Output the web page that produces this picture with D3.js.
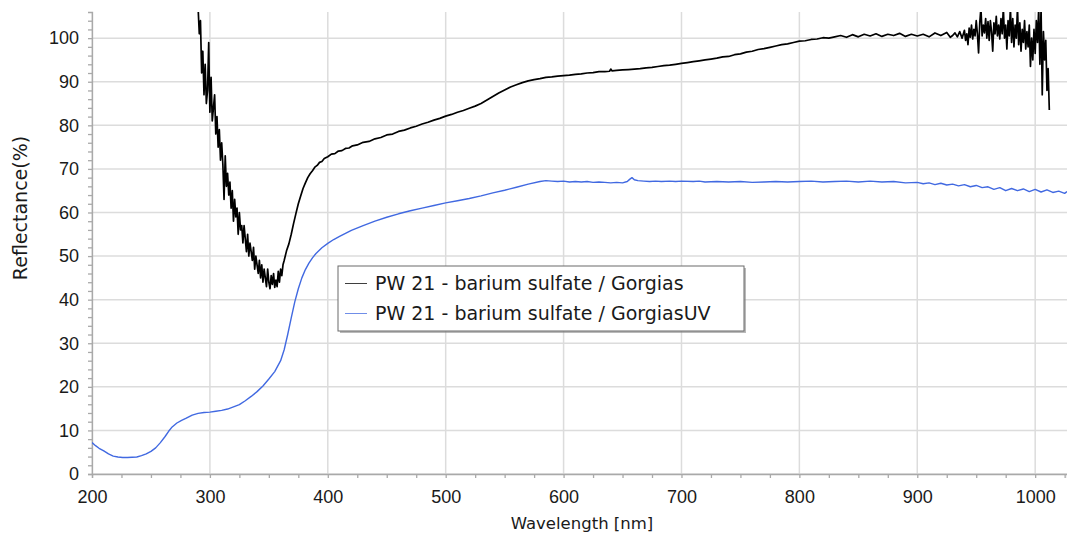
<!DOCTYPE html>
<html lang="en">
<head>
<meta charset="UTF-8">
<title>PW 21 - barium sulfate reflectance</title>
<script src="https://cdnjs.cloudflare.com/ajax/libs/d3/7.8.5/d3.min.js"></script>
<style>
  body { margin: 0; background: #fff; }
  svg { display: block; font-family: "DejaVu Sans", sans-serif; }
  .grid line { stroke: #dcdcdc; stroke-width: 1.5; }
  .axis path, .axis line { stroke: #a9a9a9; stroke-width: 1.3; }
  .axis text { fill: #1a1a1a; font-size: 18px; }
</style>
</head>
<body>
<svg id="chart"></svg>
<script>
// series labels
const seriesNames = ["PW 21 - barium sulfate / Gorgias", "PW 21 - barium sulfate / GorgiasUV"];
const seriesColors = ["#000000", "#4169e1"];

// tick labels
const xTicks = [200, 300, 400, 500, 600, 700, 800, 900, 1000];
const yTicks = [0, 10, 20, 30, 40, 50, 60, 70, 80, 90, 100];

// Gorgias (visible) – [wavelength nm, reflectance %]
const gorgias = [
  [290,107],[291,101],[292,104],[293,92],[294,97],[295,87],[296,94],[297,85],[298,88],[299,99],
  [299.5,90],[300,83],[301,91],[302,81],[303,84],[304,87],[305,78],[306,82],[307,75],[308,79],
  [309,72],[310,76],[311,71],[312,63],[313,73],[314,66],[315,69],[316,64],[317,67],[318,61],
  [319,65],[320,58],[321,63],[322,59],[323,61],[324,55],[325,60],[326,56],[327,57],[328,53],
  [329,57],[330,54],[331,51],[332,55],[333,50],[334,53],[335,51],[336,49],[337,52],[338,47],
  [339,50],[340,48],[341,46],[342,49],[343,45],[344,48],[345,44],[346,47],[347,45],[348,43],
  [349,47],[350,44],[351,42.5],[352,45.5],[353,43.5],[354,46],[355,42.8],[356,44.5],[357,43],
  [358,46.5],[359,44],[360,47],[361,45.5],[362,48],[363,49],[365,51.2],[367,52.8],[369,55],
  [371,57.5],[373,59.8],[375,62],[377,63.8],[379,65.5],[381,66.8],[383,68],[385,68.9],[387,69.6],
  [389,70.4],[391,70.8],[393,71.5],[395,71.7],[397,72.4],[400,72.8],[403,73.4],[406,73.5],
  [409,74.1],[412,74.2],[415,74.7],[418,74.8],[421,75.3],[425,75.5],[430,76.1],[435,76.3],
  [440,76.9],[445,77.2],[450,77.8],[455,78.0],[460,78.6],[465,78.9],[470,79.4],[475,79.8],
  [480,80.3],[485,80.7],[490,81.2],[495,81.6],[500,82.1],[505,82.5],[510,83.0],[515,83.4],
  [520,83.9],[525,84.4],[530,85.0],[535,85.8],[540,86.6],[545,87.4],[550,88.1],[555,88.8],
  [560,89.3],[565,89.8],[570,90.2],[575,90.5],[580,90.7],[585,91.0],[590,91.1],[595,91.3],
  [600,91.4],[605,91.5],[610,91.7],[615,91.8],[620,92.0],[625,92.1],[630,92.3],[635,92.3],
  [639,92.4],[640,92.9],[641,92.5],[645,92.6],[650,92.7],[655,92.8],[660,92.9],[665,93.0],
  [670,93.2],[675,93.3],[680,93.5],[685,93.7],[690,93.8],[695,94.0],[700,94.2],[705,94.4],
  [710,94.6],[715,94.8],[720,95.0],[725,95.2],[730,95.4],[735,95.7],[740,95.8],[745,96.2],
  [750,96.4],[755,96.8],[760,97.0],[765,97.4],[770,97.6],[775,97.9],[780,98.2],[785,98.5],
  [790,98.7],[795,99.0],[800,99.3],[805,99.4],[810,99.7],[815,99.8],[820,100.1],[825,100.0],
  [830,100.3],[835,100.6],[840,100.2],[845,100.8],[850,100.3],[855,100.9],[860,100.5],[865,101.0],
  [870,100.4],[875,100.9],[880,100.6],[885,101.1],[890,100.4],[895,100.9],[900,100.5],[905,100.9],
  [910,100.3],[915,101.2],[920,100.6],[925,101.3],[928,100.2],[930,100.6],[932,101.2],[934,100.3],
  [936,101.5],[938,100.0],[940,101.8],[941,99.5],[942,101.0],[943,98.5],[944,102.3],[945,100.2],
  [946,103.0],[947,99.8],[948,102.0],[949,100.5],[950,104.0],[951,101.0],[952,96.6],[953,103.5],
  [954,107],[955,100.5],[956,103.0],[957,101.2],[958,104.5],[959,100.0],[960,103.8],[961,99.5],
  [962,104.0],[963,101.5],[964,97.0],[965,103.5],[966,101.0],[967,105.0],[968,100.5],[969,103.0],
  [970,99.8],[971,104.5],[972,101.0],[973,107],[974,100.0],[975,103.0],[976,97.5],[977,104.0],
  [978,100.5],[979,107],[980,99.0],[981,104.5],[982,98.0],[983,103.0],[984,100.0],[985,107],
  [986,98.5],[987,103.5],[988,97.0],[989,102.0],[990,99.0],[991,104.0],[992,97.5],[993,101.5],
  [994,98.0],[995,103.0],[996,93.5],[997,100.0],[998,95.0],[999,102.0],[1000,96.5],[1001,104.0],
  [1002,99.0],[1003,107],[1004,94.0],[1005,107],[1006,87.0],[1007,101.5],[1008,95.0],[1009,99.5],
  [1010,88.0],[1011,93.0],[1012,83.5]
];

// GorgiasUV – [wavelength nm, reflectance %]
const gorgiasUV = [
  [200,7.2],[203,6.5],[206,5.9],[210,5.3],[214,4.6],[218,4.1],[222,3.9],[226,3.8],[230,3.8],
  [234,3.85],[238,3.9],[242,4.2],[246,4.6],[250,5.2],[254,6.0],[258,7.2],[262,8.6],[265,9.8],
  [268,10.8],[272,11.7],[276,12.3],[280,12.8],[285,13.5],[290,13.9],[295,14.1],[300,14.2],
  [305,14.4],[310,14.6],[315,14.9],[320,15.4],[325,15.9],[330,16.8],[335,17.8],[340,18.9],
  [345,20.2],[350,21.8],[355,23.5],[360,26.0],[363,28.5],[366,32.0],[369,35.8],[372,39.5],
  [375,42.5],[378,45.0],[381,46.9],[384,48.4],[387,49.6],[390,50.6],[395,51.9],[400,52.9],
  [405,53.8],[410,54.5],[415,55.2],[420,55.9],[430,57.0],[440,58.0],[450,58.9],[460,59.7],
  [470,60.4],[480,61.0],[490,61.6],[500,62.2],[510,62.7],[520,63.2],[530,63.8],[540,64.5],
  [550,65.1],[560,65.8],[570,66.5],[580,67.1],[585,67.3],[590,67.2],[595,67.1],[600,67.2],
  [605,67.0],[610,67.1],[615,67.0],[620,67.1],[625,66.9],[630,67.0],[635,66.9],[640,66.8],
  [645,66.9],[650,66.8],[654,67.1],[656,67.6],[658,68.0],[660,67.5],[663,67.3],[668,67.2],
  [673,67.1],[678,67.2],[683,67.1],[690,67.2],[695,67.1],[700,67.2],[710,67.1],[715,67.2],
  [720,67.0],[730,67.1],[740,67.0],[750,67.1],[760,66.9],[770,67.0],[780,67.1],[790,67.0],
  [800,67.1],[810,67.2],[820,67.0],[830,67.1],[840,67.2],[850,67.0],[860,67.2],[870,67.0],
  [880,67.1],[890,66.8],[900,66.9],[905,66.6],[910,66.8],[915,66.4],[920,66.7],[925,66.3],
  [930,66.5],[935,66.1],[940,66.4],[945,65.9],[950,66.2],[955,65.7],[960,65.9],[965,65.3],
  [970,65.7],[975,65.0],[980,65.5],[985,65.0],[990,65.4],[995,64.8],[1000,65.3],[1005,64.7],
  [1010,65.2],[1015,64.6],[1020,64.9],[1025,64.4],[1027,64.8]
];

const W = 1067, H = 535;
const margin = { top: 12, right: 0, bottom: 61, left: 92 };

const svg = d3.select("#chart").attr("width", W).attr("height", H);

const x = d3.scaleLinear().domain([200, 1027]).range([margin.left, W - margin.right]);
const y = d3.scaleLinear().domain([0, 106]).range([H - margin.bottom, margin.top]);

// grid lines (major only)
const grid = svg.append("g").attr("class", "grid");
grid.selectAll(".vx").data(xTicks).enter().append("line")
    .attr("x1", d => x(d)).attr("x2", d => x(d))
    .attr("y1", margin.top).attr("y2", H - margin.bottom);
grid.selectAll(".hy").data(yTicks).enter().append("line")
    .attr("x1", margin.left).attr("x2", W - margin.right)
    .attr("y1", d => y(d)).attr("y2", d => y(d));

// axes: minor ticks every 25 nm and every 2 %
const xAxis = d3.axisBottom(x)
    .tickValues(d3.range(200, 1026, 25))
    .tickSize(4).tickPadding(12)
    .tickFormat(d => xTicks.includes(d) ? d : "");
svg.append("g").attr("class", "axis")
   .attr("transform", "translate(0," + (H - margin.bottom) + ")")
   .call(xAxis);

const yAxis = d3.axisLeft(y)
    .tickValues(d3.range(0, 106, 2))
    .tickSize(4).tickPadding(9)
    .tickFormat(d => yTicks.includes(d) ? d : "");
svg.append("g").attr("class", "axis")
   .attr("transform", "translate(" + margin.left + ",0)")
   .call(yAxis);

// clip the curves to the plot area
svg.append("clipPath").attr("id", "plot-clip")
   .append("rect")
   .attr("x", margin.left).attr("y", margin.top)
   .attr("width", W - margin.left - margin.right)
   .attr("height", H - margin.top - margin.bottom);

const line = d3.line().x(d => x(d[0])).y(d => y(d[1]));

const curves = svg.append("g").attr("clip-path", "url(#plot-clip)");
curves.append("path").datum(gorgiasUV)
      .attr("fill", "none").attr("stroke", seriesColors[1])
      .attr("stroke-width", 1.4).attr("stroke-linejoin", "round")
      .attr("d", line);
curves.append("path").datum(gorgias)
      .attr("fill", "none").attr("stroke", seriesColors[0])
      .attr("stroke-width", 1.7).attr("stroke-linejoin", "round")
      .attr("d", line);

// axis titles
svg.append("text")
   .attr("x", 582).attr("y", 529)
   .attr("text-anchor", "middle")
   .style("font-size", "16.5px").style("fill", "#1a1a1a")
   .text("Wavelength [nm]");

svg.append("text")
   .attr("transform", "translate(27,208) rotate(-90)")
   .attr("text-anchor", "middle")
   .style("font-size", "19px").style("fill", "#1a1a1a")
   .text("Reflectance(%)");

// legend
const legend = svg.append("g").attr("transform", "translate(338,266)");
legend.append("rect")
      .attr("x", 2).attr("y", 2).attr("width", 406).attr("height", 65)
      .attr("fill", "#8a8a8a").attr("opacity", 0.6);
legend.append("rect")
      .attr("width", 406).attr("height", 65)
      .attr("fill", "#fff").attr("stroke", "#6a6a6a").attr("stroke-width", 1);

const rows = legend.selectAll(".row").data(seriesNames).enter().append("g")
      .attr("transform", (d, i) => "translate(0," + (17.5 + i * 30) + ")");
rows.append("line")
    .attr("x1", 7).attr("x2", 29)
    .attr("stroke", (d, i) => seriesColors[i]).attr("stroke-width", 1)
    .attr("opacity", 0.75);
rows.append("text")
    .attr("x", 37).attr("dy", "0.36em")
    .style("font-size", "19px").style("fill", "#1a1a1a")
    .text(d => d);
</script>
</body>
</html>
